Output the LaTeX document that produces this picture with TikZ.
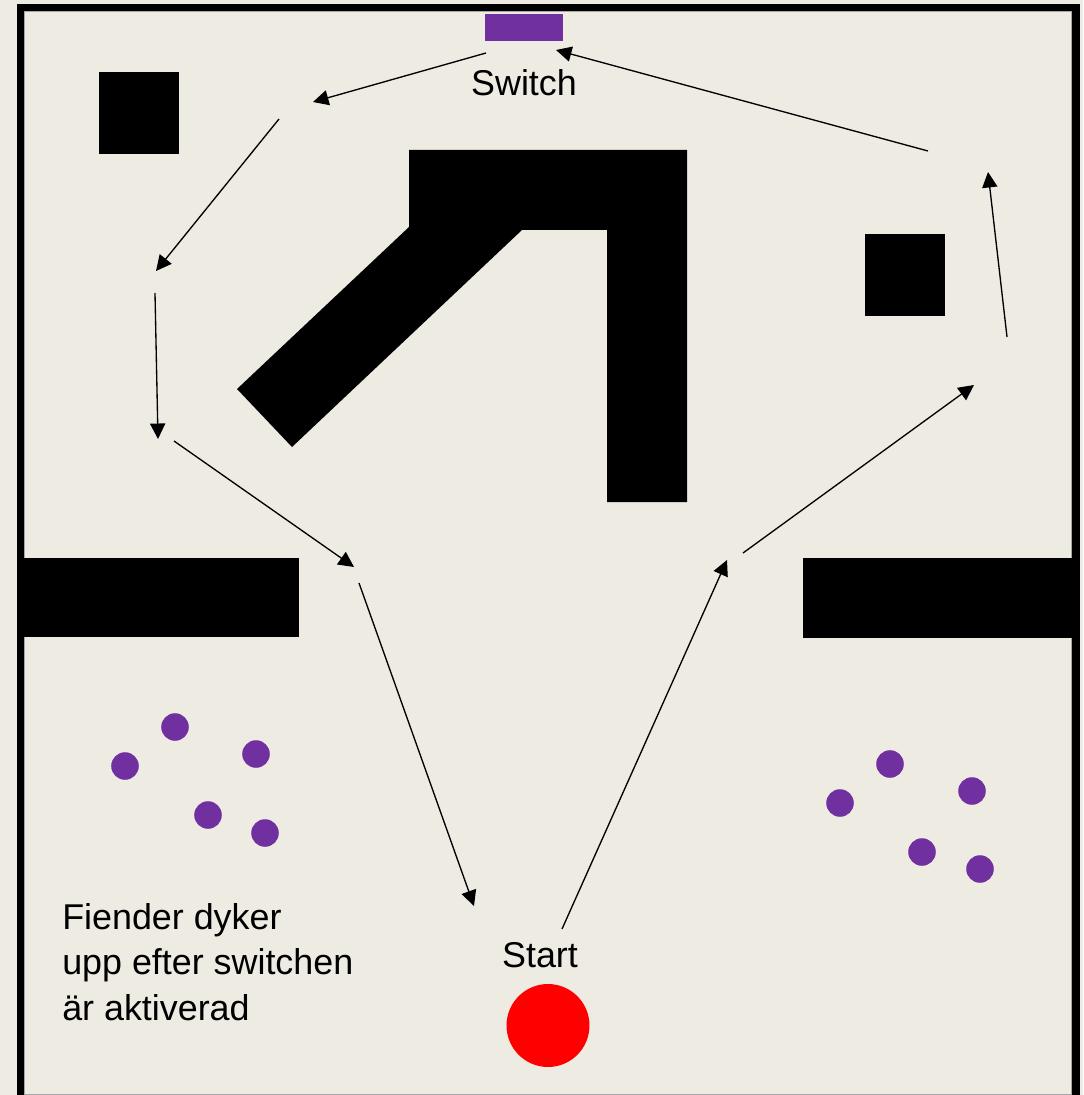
\documentclass[tikz,border=0pt]{standalone}
\usepackage{fontspec}
\setmainfont{Liberation Sans}
\usetikzlibrary{arrows.meta}
\definecolor{bg}{RGB}{238,235,227}
\definecolor{lila}{RGB}{112,48,160}
\definecolor{rod}{RGB}{255,0,0}
\tikzset{
  wall/.style={fill=black},
  ram/.style={draw=black,line width=5.2pt},
  fnd/.style={circle,fill=lila,minimum size=19.6pt,inner sep=0pt},
  spel/.style={circle,fill=rod,minimum size=59pt,inner sep=0pt},
  knapp/.style={rectangle,fill=lila,minimum width=55.5pt,minimum height=19.2pt,inner sep=0pt},
  lb/.style={font=\fontsize{25.5}{32.4}\selectfont,inner sep=0pt},
  mv/.style={-{Triangle[length=11pt,width=10.8pt]},line width=.95pt,draw=black},
}
\begin{document}
\begin{tikzpicture}[x=0.025cm,y=-0.025cm]
  \useasboundingbox (0,0) rectangle (1083,1095);
  \fill[bg] (0,0) rectangle (1083,1095);
  % yttervagg, oppen nedat
  \draw[gray!70,line width=.7pt] (24.5,1094) -- (24.5,11.5) -- (1071.5,11.5) -- (1071.5,1094) -- cycle;
  \draw[ram] (20.5,1100) -- (20.5,7.5) -- (1076,7.5) -- (1076,1100);
  % hinder
  \fill[wall] (99,72) rectangle (179,154);
  \fill[wall] (865,234) rectangle (945,316);
  \fill[wall] (409,150) -- (687,150) -- (687,502) -- (607,502) -- (607,230)
    -- (522,230) -- (292,447) -- (237,389) -- (409,227) -- cycle;
  \fill[wall] (20,558) rectangle (299,637);
  \fill[wall] (803,558) rectangle (1076,638);
  % switch och start
  \node[knapp] (sw) at (524,28) {};
  \node[lb] (swt) at (524,83) {Switch};
  \node[spel] (st) at (548,1025.5) {};
  \node[lb] (stt) at (540,955) {Start};
  % fiender
  \foreach \n/\x/\y in {e1/175/727,e2/125/766,e3/256/754,e4/208/815,e5/265/833,
                        e6/890/764,e7/840/803,e8/972/791,e9/922/852,e10/980/869}
    \node[fnd] (\n) at (\x,\y) {};
  \node[lb,anchor=north west,align=left] (info) at (62,903)
    {Fiender dyker\\upp efter switchen\\är aktiverad};
  % vagen runt banan
  \foreach \n/\x/\y in {a1/486/53,b1/313/102,a2/279/119,b2/156/271,a3/155/293,b3/158/439,
                        a4/174/441,b4/354/567,a5/359/583,b5/474/906,a6/562/929,b6/727/560,
                        a7/743/553,b7/974/385,a8/1007/337,b8/988/172,a9/928/151,b9/556/50}
    \coordinate (\n) at (\x,\y);
  \foreach \i in {1,...,9}
    \draw[mv] (a\i) -- (b\i);
\end{tikzpicture}
\end{document}
